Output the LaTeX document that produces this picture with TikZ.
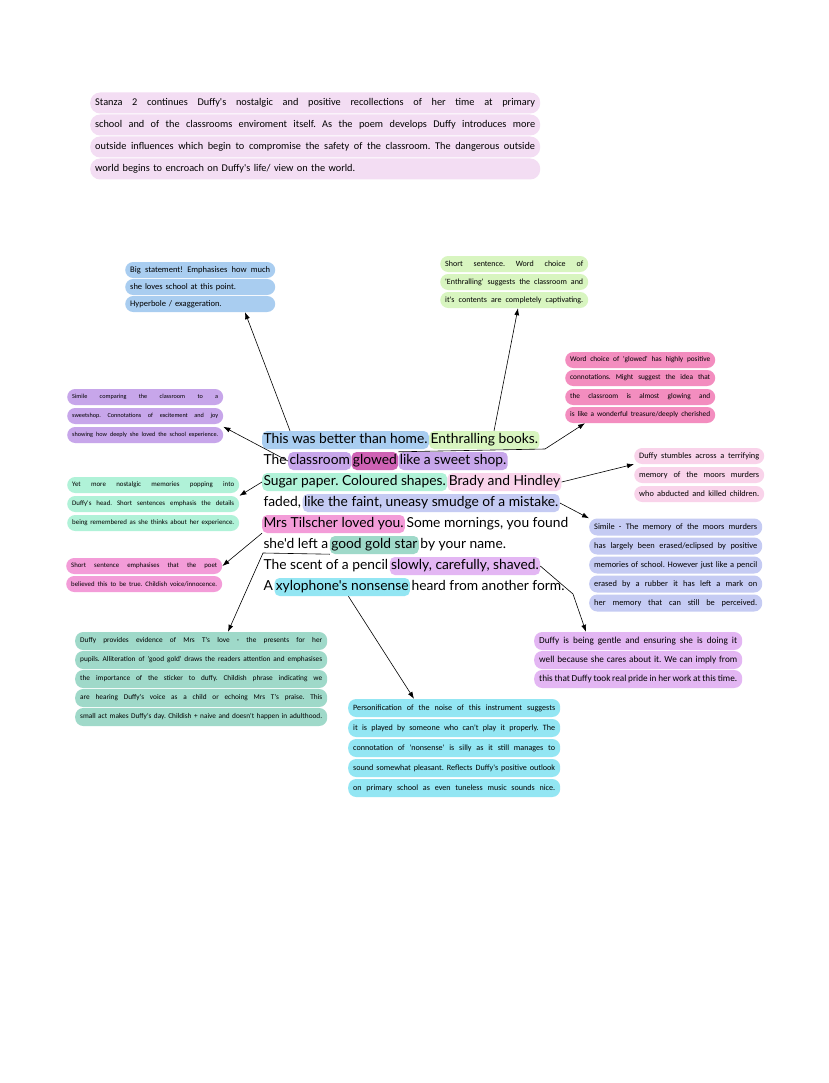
\documentclass[tikz,border=0pt]{standalone}
\usepackage{fontspec}
\usepackage{tikz}
\usetikzlibrary{arrows.meta, positioning}

\newfontfamily\poemfont{Lato}
\newfontfamily\notefont{Carlito}
\frenchspacing

\definecolor{cStanza}{HTML}{F3DDF3}
\definecolor{cBlue}{HTML}{A9CDF0}
\definecolor{cGreen}{HTML}{D8F5C0}
\definecolor{cPink}{HTML}{F38DBF}
\definecolor{cPurple}{HTML}{C7A6EA}
\definecolor{cMagenta}{HTML}{CF62B4}
\definecolor{cMint}{HTML}{B0F2D8}
\definecolor{cRose}{HTML}{F9D3EA}
\definecolor{cLav}{HTML}{C5CBF3}
\definecolor{cHot}{HTML}{F39CD8}
\definecolor{cTeal}{HTML}{9FD9C9}
\definecolor{cLilac}{HTML}{E3B6F3}
\definecolor{cCyan}{HTML}{93E6F3}

\begin{document}
\begin{tikzpicture}[x=1pt, y=-1pt,
	poemtxt/.style={font=\poemfont\fontsize{13.8}{15}\selectfont, inner xsep=1.3pt, inner ysep=2.5pt, text height=10pt, text depth=3pt, rounded corners=5pt},
	hl/.style={poemtxt, fill=#1},
	pill/.style n args={3}{fill=#1, text width=#2, font=\notefont\fontsize{#3}{#3}\selectfont, anchor=west, rounded corners=8pt, inner xsep=5pt, inner ysep=0pt, minimum height=16pt, align=justify, execute at begin node={\parfillskip=0pt\hyphenpenalty=10000\relax}},
	shortline/.style={align=left},
	arr/.style={-{Latex[length=7pt, width=5pt]}, line width=0.6pt}]

		\useasboundingbox[fill=white] (0,0) rectangle (828,1083);

		% stanza summary
		\node[pill={cStanza}{440pt}{10.3}, minimum height=21pt, rounded corners=10pt] (stanza1) at (90,103) {Stanza 2 continues Duffy's nostalgic and positive recollections of her time at primary};
		\node[pill={cStanza}{440pt}{10.3}, minimum height=21pt, rounded corners=10pt] (stanza2) at (90,125) {school and of the classrooms enviroment itself. As the poem develops Duffy introduces more};
		\node[pill={cStanza}{440pt}{10.3}, minimum height=21pt, rounded corners=10pt] (stanza3) at (90,147) {outside influences which begin to compromise the safety of the classroom. The dangerous outside};
		\node[pill={cStanza}{440pt}{10.3}, minimum height=21pt, rounded corners=10pt, shortline] (stanza4) at (90,169) {world begins to encroach on Duffy's life/ view on the world.};

		% the poem
		\node[hl=cBlue, anchor=west] (home) at (262,440) {This was better than home.};
		\node[hl=cGreen, base right=0pt of home] (books) {Enthralling books.};

		\node[poemtxt, anchor=west] (the) at (262,461) {The};
		\node[hl=cPurple, base right=0pt of the] (classroom) {classroom};
		\node[hl=cMagenta, base right=0pt of classroom] (glowed) {glowed};
		\node[hl=cPurple, base right=0pt of glowed] (shop) {like a sweet shop.};

		\node[hl=cMint, anchor=west] (sugar) at (262,482) {Sugar paper. Coloured shapes.};
		\node[hl=cRose, base right=0pt of sugar] (brady) {Brady and Hindley};

		\node[poemtxt, anchor=west] (faded) at (262,503) {faded,};
		\node[hl=cLav, base right=0pt of faded] (smudge) {like the faint, uneasy smudge of a mistake.};

		\node[hl=cHot, anchor=west] (mrs) at (262,524) {Mrs Tilscher loved you.};
		\node[poemtxt, base right=0pt of mrs] (found) {Some mornings, you found};

		\node[poemtxt, anchor=west] (left) at (262,545) {she'd left a};
		\node[hl=cTeal, base right=0pt of left] (star) {good gold star};
		\node[poemtxt, base right=0pt of star] (name) {by your name.};

		\node[poemtxt, anchor=west] (scent) at (262,566) {The scent of a pencil};
		\node[hl=cLilac, base right=0pt of scent] (shaved) {slowly, carefully, shaved.};

		\node[poemtxt, anchor=west] (a) at (262,587) {A};
		\node[hl=cCyan, base right=0pt of a] (xylophone) {xylophone's nonsense};
		\node[poemtxt, base right=0pt of xylophone] (form) {heard from another form.};

		% notes
		\node[pill={cBlue}{140pt}{8.5}] (big1) at (125,270) {Big statement! Emphasises how much};
		\node[pill={cBlue}{140pt}{8.5}, shortline] (big2) at (125,287) {she loves school at this point.};
		\node[pill={cBlue}{140pt}{8.5}, shortline] (big3) at (125,304) {Hyperbole / exaggeration.};

		\node[pill={cGreen}{138pt}{8}] (enth1) at (440,264) {Short sentence. Word choice of};
		\node[pill={cGreen}{138pt}{8}] (enth2) at (440,282) {'Enthralling' suggests the classroom and};
		\node[pill={cGreen}{138pt}{8}] (enth3) at (440,300) {it's contents are completely captivating.};

		\node[pill={cPink}{140pt}{7.3}] (glow1) at (565,360) {Word choice of 'glowed' has highly positive};
		\node[pill={cPink}{140pt}{7.3}] (glow2) at (565,378) {connotations. Might suggest the idea that};
		\node[pill={cPink}{140pt}{7.3}] (glow3) at (565,397) {the classroom is almost glowing and};
		\node[pill={cPink}{140pt}{7.3}] (glow4) at (565,415) {is like a wonderful treasure/deeply cherished};

		\node[pill={cPurple}{146pt}{6.2}] (sim1) at (67,397) {Simile comparing the classroom to a};
		\node[pill={cPurple}{146pt}{6.2}] (sim2) at (67,416) {sweetshop. Connotations of excitement and joy};
		\node[pill={cPurple}{146pt}{6.2}] (sim3) at (67,435) {showing how deeply she loved the school experience.};

		\node[pill={cMint}{162pt}{6.9}] (yet1) at (67,485) {Yet more nostalgic memories popping into};
		\node[pill={cMint}{162pt}{6.9}] (yet2) at (67,504) {Duffy's head. Short sentences emphasis the details};
		\node[pill={cMint}{162pt}{6.9}] (yet3) at (67,523) {being remembered as she thinks about her experience.};

		\node[pill={cRose}{120pt}{8.3}] (stum1) at (634,456) {Duffy stumbles across a terrifying};
		\node[pill={cRose}{120pt}{8.3}] (stum2) at (634,475) {memory of the moors murders};
		\node[pill={cRose}{120pt}{8.3}] (stum3) at (634,494) {who abducted and killed children.};

		\node[pill={cLav}{163pt}{8.4}, minimum height=17pt] (moor1) at (589,527) {Simile - The memory of the moors murders};
		\node[pill={cLav}{163pt}{8.4}, minimum height=17pt] (moor2) at (589,546) {has largely been erased/eclipsed by positive};
		\node[pill={cLav}{163pt}{8.4}, minimum height=17pt] (moor3) at (589,565) {memories of school. However just like a pencil};
		\node[pill={cLav}{163pt}{8.4}, minimum height=17pt] (moor4) at (589,584) {erased by a rubber it has left a mark on};
		\node[pill={cLav}{163pt}{8.4}, minimum height=17pt] (moor5) at (589,603) {her memory that can still be perceived.};

		\node[pill={cHot}{146pt}{6.8}] (short1) at (66,566) {Short sentence emphasises that the poet};
		\node[pill={cHot}{146pt}{6.8}] (short2) at (66,584) {believed this to be true. Childish voice/innocence.};

		\node[pill={cTeal}{242pt}{7.3}, minimum height=18pt] (gold1) at (75,641) {Duffy provides evidence of Mrs T's love - the presents for her};
		\node[pill={cTeal}{242pt}{7.3}, minimum height=18pt] (gold2) at (75,660) {pupils. Alliteration of 'good gold' draws the readers attention and emphasises};
		\node[pill={cTeal}{242pt}{7.3}, minimum height=18pt] (gold3) at (75,679) {the importance of the sticker to duffy. Childish phrase indicating we};
		\node[pill={cTeal}{242pt}{7.3}, minimum height=18pt] (gold4) at (75,698) {are hearing Duffy's voice as a child or echoing Mrs T's praise. This};
		\node[pill={cTeal}{242pt}{7.3}, minimum height=18pt] (gold5) at (75,717) {small act makes Duffy's day. Childish + naive and doesn't happen in adulthood.};

		\node[pill={cLilac}{198pt}{9.2}, minimum height=18pt] (gent1) at (534,641) {Duffy is being gentle and ensuring she is doing it};
		\node[pill={cLilac}{198pt}{9.2}, minimum height=18pt] (gent2) at (534,660) {well because she cares about it. We can imply from};
		\node[pill={cLilac}{198pt}{9.2}, minimum height=18pt] (gent3) at (534,679) {this that Duffy took real pride in her work at this time.};

		\node[pill={cCyan}{202pt}{8.1}, minimum height=18pt] (noise1) at (348,708) {Personification of the noise of this instrument suggests};
		\node[pill={cCyan}{202pt}{8.1}, minimum height=18pt] (noise2) at (348,728) {it is played by someone who can't play it properly. The};
		\node[pill={cCyan}{202pt}{8.1}, minimum height=18pt] (noise3) at (348,748) {connotation of 'nonsense' is silly as it still manages to};
		\node[pill={cCyan}{202pt}{8.1}, minimum height=18pt] (noise4) at (348,768) {sound somewhat pleasant. Reflects Duffy's positive outlook};
		\node[pill={cCyan}{202pt}{8.1}, minimum height=18pt] (noise5) at (348,788) {on primary school as even tuneless music sounds nice.};

		% arrows
		\coordinate (gbend) at (545,449);
		\coordinate (sbend) at (263,553);
		\coordinate (fbend) at (573,594);

		\draw[arr] ([xshift=28pt]home.north west) -- ([xshift=120pt]big3.south west);
		\draw[arr] ([xshift=65pt]books.north west) -- ([xshift=78pt]enth3.south west);
		\draw[arr] (glowed.north east) -- (gbend) -- ([xshift=20pt]glow4.south west);
		\draw[arr] (classroom.west) -- (sim3.north east);
		\draw[arr] (sugar.west) -- (yet2.north east);
		\draw[arr] (brady.east) -- (stum1.south west);
		\draw[arr] (smudge.east) -- (moor1.north west);
		\draw[arr] (mrs.south west) -- (short1.east);
		\draw[arr] (star.south west) -- (sbend) -- ([xshift=153pt]gold1.north west);
		\draw[arr] ([xshift=74pt]xylophone.south west) -- ([xshift=66pt]noise1.north west);
		\draw[arr] (shaved.east) -- (fbend) -- ([xshift=52pt]gent1.north west);
\end{tikzpicture}
\end{document}
